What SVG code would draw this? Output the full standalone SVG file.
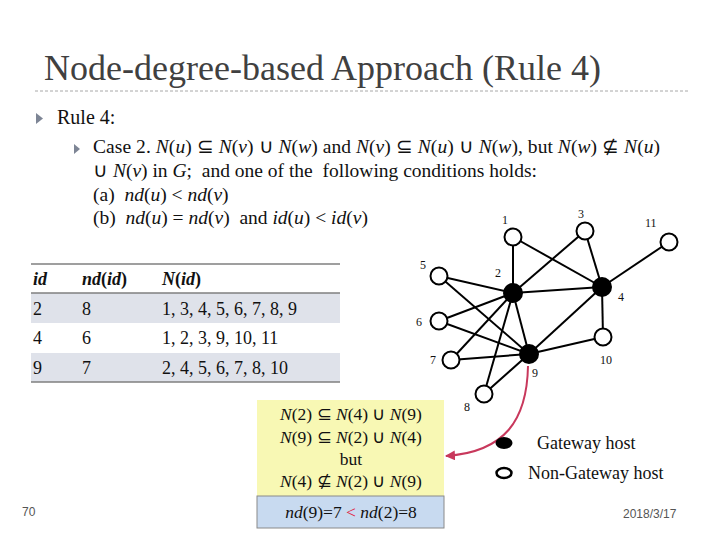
<svg xmlns="http://www.w3.org/2000/svg" width="720" height="540" viewBox="0 0 720 540">
<defs>
<style>
.t{font-family:"Liberation Serif","Times New Roman",serif;fill:#111}
.i{font-style:italic}
.b{font-weight:bold}
.e{stroke:#000;stroke-width:2;fill:none}
.n{fill:#fff;stroke:#000;stroke-width:2}
.g{fill:#000;stroke:#000;stroke-width:2}
.lb{font-family:"Liberation Serif","Times New Roman",serif;font-size:12px;fill:#111}
.bul{fill:#7d8595}
.tl{stroke:#7f7f7f;stroke-width:1.5}
</style>
<marker id="ah" viewBox="0 0 10 10" refX="9" refY="5" markerWidth="5" markerHeight="5" orient="auto">
<path d="M0,0 L10,5 L0,10 z" fill="#c8385c"/>
</marker>
</defs>
<rect width="720" height="540" fill="#fff"/>

<g id="title">
<text class="t" x="44" y="80" font-size="36" textLength="557" lengthAdjust="spacingAndGlyphs" style="fill:#404040">Node-degree-based Approach (Rule 4)</text>
<line x1="35" y1="91" x2="688" y2="91" stroke="#a8a8a8" stroke-width="1" stroke-dasharray="3,2"/>
</g>

<g id="rule-text">
<path class="bul" d="M36,113 L43,118.5 L36,124 z"/>
<text class="t" x="57" y="124" font-size="20">Rule 4:</text>
<path class="bul" d="M74,144 L80,149 L74,154 z"/>
<text class="t" x="93" y="153" font-size="19.5" textLength="567">Case 2. <tspan class="i">N</tspan>(<tspan class="i">u</tspan>) ⊆ <tspan class="i">N</tspan>(<tspan class="i">v</tspan>) ∪ <tspan class="i">N</tspan>(<tspan class="i">w</tspan>) and <tspan class="i">N</tspan>(<tspan class="i">v</tspan>) ⊆ <tspan class="i">N</tspan>(<tspan class="i">u</tspan>) ∪ <tspan class="i">N</tspan>(<tspan class="i">w</tspan>), but <tspan class="i">N</tspan>(<tspan class="i">w</tspan>) ⊈ <tspan class="i">N</tspan>(<tspan class="i">u</tspan>)</text>
<text class="t" x="93" y="177" font-size="19.5" xml:space="preserve">∪ <tspan class="i">N</tspan>(<tspan class="i">v</tspan>) in <tspan class="i">G</tspan>;  and one of the  following conditions holds:</text>
<text class="t" x="93" y="201" font-size="19.5" xml:space="preserve">(a)  <tspan class="i">nd</tspan>(<tspan class="i">u</tspan>) &lt; <tspan class="i">nd</tspan>(<tspan class="i">v</tspan>)</text>
<text class="t" x="93" y="224" font-size="19.5" xml:space="preserve">(b)  <tspan class="i">nd</tspan>(<tspan class="i">u</tspan>) = <tspan class="i">nd</tspan>(<tspan class="i">v</tspan>)  and <tspan class="i">id</tspan>(<tspan class="i">u</tspan>) &lt; <tspan class="i">id</tspan>(<tspan class="i">v</tspan>)</text>
</g>

<g id="table">
<rect x="31" y="293" width="309" height="30" fill="#dfe2ea"/>
<rect x="31" y="353" width="309" height="29" fill="#dfe2ea"/>
<line class="tl" x1="31" y1="264" x2="340" y2="264"/>
<line class="tl" x1="31" y1="293" x2="340" y2="293"/>
<line class="tl" x1="31" y1="382" x2="340" y2="382"/>
<text class="t b" x="33" y="285" font-size="18"><tspan class="i">id</tspan></text>
<text class="t b" x="82" y="285" font-size="18"><tspan class="i">nd</tspan>(<tspan class="i">id</tspan>)</text>
<text class="t b" x="162" y="285" font-size="18"><tspan class="i">N</tspan>(<tspan class="i">id</tspan>)</text>
<text class="t" x="33" y="315" font-size="18">2</text>
<text class="t" x="82" y="315" font-size="18">8</text>
<text class="t" x="162" y="315" font-size="18">1, 3, 4, 5, 6, 7, 8, 9</text>
<text class="t" x="33" y="344" font-size="18">4</text>
<text class="t" x="82" y="344" font-size="18">6</text>
<text class="t" x="162" y="344" font-size="18">1, 2, 3, 9, 10, 11</text>
<text class="t" x="33" y="374" font-size="18">9</text>
<text class="t" x="82" y="374" font-size="18">7</text>
<text class="t" x="162" y="374" font-size="18">2, 4, 5, 6, 7, 8, 10</text>
</g>

<g id="connectors">
<line class="e" x1="513" y1="237" x2="513" y2="293"/>
<line class="e" x1="513" y1="237" x2="602" y2="287"/>
<line class="e" x1="585" y1="231" x2="513" y2="293"/>
<line class="e" x1="585" y1="231" x2="602" y2="287"/>
<line class="e" x1="669" y1="242" x2="602" y2="287"/>
<line class="e" x1="439" y1="276" x2="513" y2="293"/>
<line class="e" x1="439" y1="276" x2="529" y2="354"/>
<line class="e" x1="513" y1="293" x2="602" y2="287"/>
<line class="e" x1="513" y1="293" x2="439" y2="321"/>
<line class="e" x1="513" y1="293" x2="451" y2="360"/>
<line class="e" x1="513" y1="293" x2="484" y2="394"/>
<line class="e" x1="513" y1="293" x2="529" y2="354"/>
<line class="e" x1="439" y1="321" x2="529" y2="354"/>
<line class="e" x1="451" y1="360" x2="529" y2="354"/>
<line class="e" x1="484" y1="394" x2="529" y2="354"/>
<line class="e" x1="602" y1="287" x2="529" y2="354"/>
<line class="e" x1="602" y1="287" x2="603" y2="337"/>
<line class="e" x1="603" y1="337" x2="529" y2="354"/>
<path d="M528,366 C527,420 505,452 446,456" fill="none" stroke="#c8385c" stroke-width="2" marker-end="url(#ah)"/>
</g>

<g id="node-1"><circle class="n" cx="513" cy="237" r="8.5"/><text class="lb" x="502" y="224">1</text></g>
<g id="node-3"><circle class="n" cx="585" cy="231" r="8.5"/><text class="lb" x="578" y="218">3</text></g>
<g id="node-11"><circle class="n" cx="669" cy="242" r="8.5"/><text class="lb" x="645" y="227">11</text></g>
<g id="node-5"><circle class="n" cx="439" cy="276" r="8.5"/><text class="lb" x="420" y="269">5</text></g>
<g id="node-2"><circle class="g" cx="513" cy="293" r="9"/><text class="lb" x="495" y="277">2</text></g>
<g id="node-4"><circle class="g" cx="602" cy="287" r="9"/><text class="lb" x="618" y="301">4</text></g>
<g id="node-6"><circle class="n" cx="439" cy="321" r="8.5"/><text class="lb" x="416" y="326">6</text></g>
<g id="node-10"><circle class="n" cx="603" cy="337" r="8.5"/><text class="lb" x="600" y="364">10</text></g>
<g id="node-7"><circle class="n" cx="451" cy="360" r="8.5"/><text class="lb" x="430" y="364">7</text></g>
<g id="node-9"><circle class="g" cx="529" cy="354" r="9"/><text class="lb" x="532" y="377">9</text></g>
<g id="node-8"><circle class="n" cx="484" cy="394" r="8.5"/><text class="lb" x="464" y="411">8</text></g>

<g id="condition-box">
<rect x="257" y="400" width="187" height="96" fill="#f8f8b4"/>
<text class="t" x="351" y="420" font-size="17.5" text-anchor="middle"><tspan class="i">N</tspan>(2) ⊆ <tspan class="i">N</tspan>(4) ∪ <tspan class="i">N</tspan>(9)</text>
<text class="t" x="351" y="443" font-size="17.5" text-anchor="middle"><tspan class="i">N</tspan>(9) ⊆ <tspan class="i">N</tspan>(2) ∪ <tspan class="i">N</tspan>(4)</text>
<text class="t" x="351" y="465" font-size="17.5" text-anchor="middle">but</text>
<text class="t" x="351" y="487" font-size="17.5" text-anchor="middle"><tspan class="i">N</tspan>(4) ⊈ <tspan class="i">N</tspan>(2) ∪ <tspan class="i">N</tspan>(9)</text>
</g>
<g id="degree-box">
<rect x="257" y="496" width="187" height="32" fill="#c8daf0" stroke="#8a8a8a" stroke-width="1"/>
<text class="t" x="351" y="518" font-size="17.5" text-anchor="middle"><tspan class="i">nd</tspan>(9)=7 <tspan style="fill:#e0203c">&lt;</tspan> <tspan class="i">nd</tspan>(2)=8</text>
</g>

<g id="legend">
<ellipse cx="504" cy="443" rx="8.5" ry="6" fill="#000"/>
<text class="t" x="537" y="449" font-size="18">Gateway host</text>
<ellipse cx="504" cy="473" rx="7.5" ry="5" fill="#fff" stroke="#000" stroke-width="2.5"/>
<text class="t" x="528" y="479" font-size="18">Non-Gateway host</text>
</g>

<g id="footer">
<text x="22" y="516" font-family="Liberation Sans, Arial, sans-serif" font-size="12" fill="#555">70</text>
<text x="623" y="518" font-family="Liberation Sans, Arial, sans-serif" font-size="12" fill="#555">2018/3/17</text>
</g>
</svg>
